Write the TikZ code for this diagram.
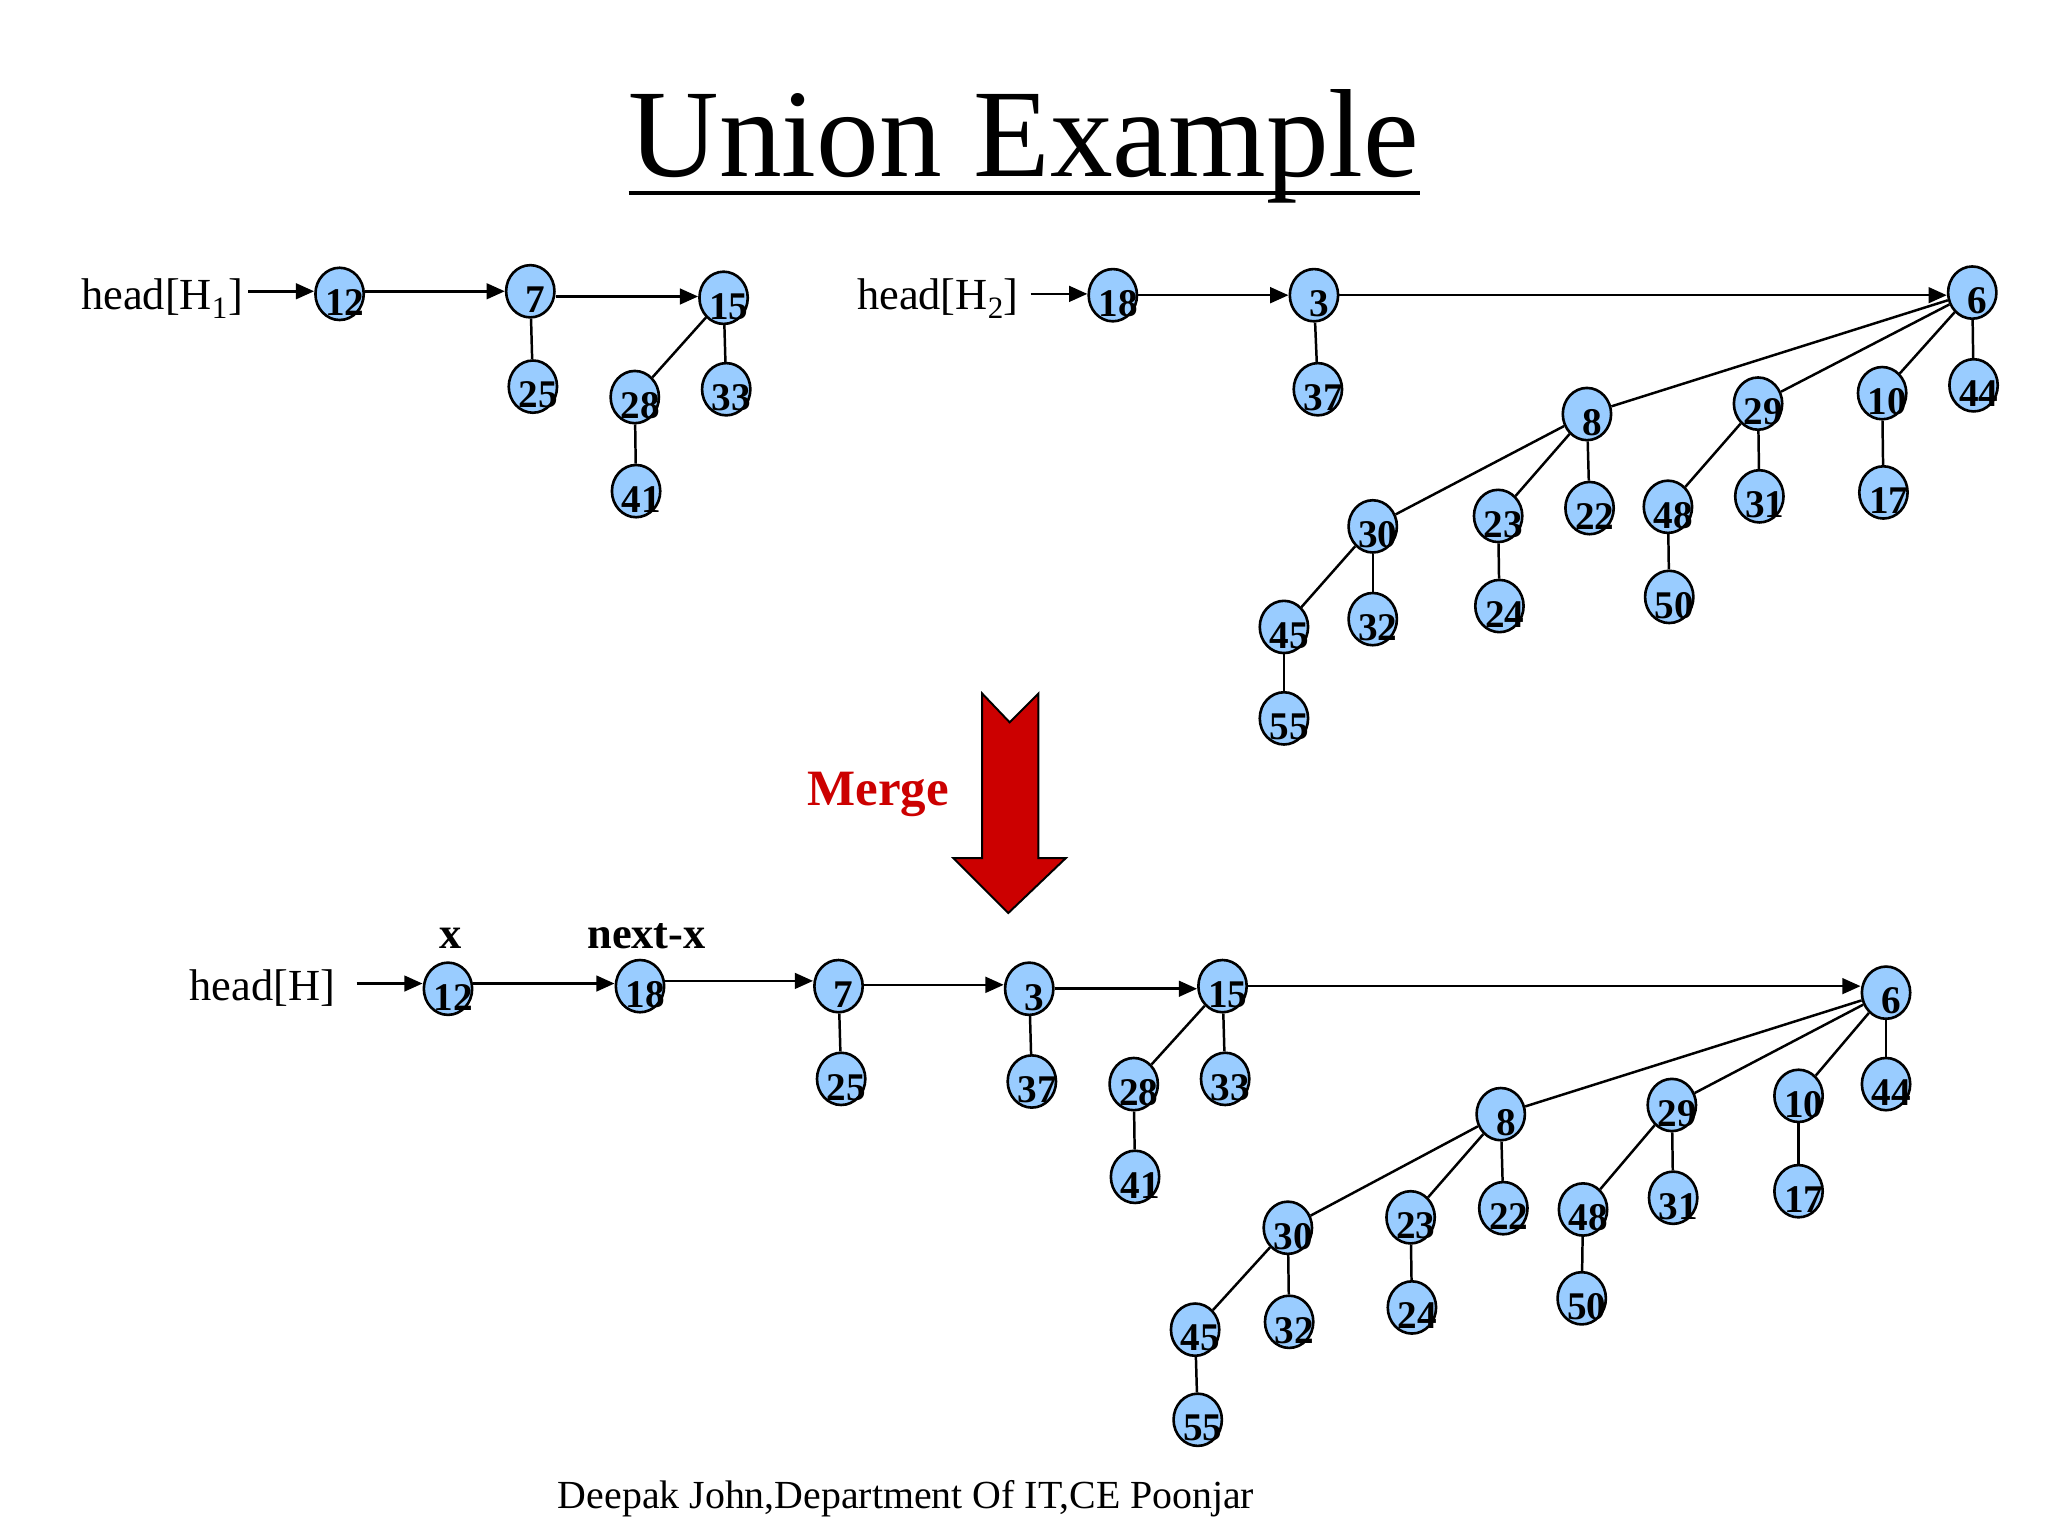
\documentclass[tikz,border=0pt]{standalone}
\usepackage{fontspec}
\setmainfont{Liberation Serif}
\usetikzlibrary{shapes.geometric,arrows.meta}
\definecolor{nodeblue}{HTML}{99CCFF}
\definecolor{mergered}{HTML}{CC0000}
\tikzset{
 nd/.style={ellipse, draw=black, line width=2pt, fill=nodeblue, minimum width=37pt, minimum height=40pt, inner sep=0pt},
 num/.style={font=\fontsize{30}{30}\selectfont\bfseries, inner sep=0pt},
 edge/.style={line width=1.9pt},
 arr/.style={line width=2pt, -{Triangle[length=14pt,width=12pt]}},
 txt/.style={inner sep=0pt},
 headtxt/.style={txt, font=\fontsize{34}{34}\selectfont, anchor=base west},
}
\newcommand{\hn}[4]{\node[nd] (#1) at (#2,#3) {}; \node[num] (#1t) at ([xshift=4pt,yshift=-6.5pt]#1.center) {#4};}
\newcommand{\harr}[2]{\draw[arr] (#1) -- (#1 -| #2.west);}
\begin{document}
\begin{tikzpicture}[x=1pt,y=-1pt]
\useasboundingbox[fill=white] (0,0) rectangle (1568,1176);
% title
\node[txt, font=\fontsize{96}{96}\selectfont, anchor=base] (title) at (784,135) {Union Example};
\draw[line width=3pt] (title.base west |- 0,148) -- (title.base east |- 0,148);

% ---------- H1 ----------
\node[headtxt] (h1) at (62,237) {head[H\textsubscript{1}]};
\coordinate (h1a) at (190,223);
\hn{p12}{260}{225}{12}
\hn{p7}{406}{223}{7}
\hn{p15}{554}{228}{15}
\hn{p25}{408}{296}{25}
\hn{p28}{486}{304}{28}
\hn{p33}{556}{298}{33}
\hn{p41}{487}{376}{41}
\harr{h1a}{p12}
\draw[arr] (p12.east |- p7) -- (p7.west);
\draw[arr] (p7.east |- 0,227) -- (p15.west |- 0,227);
\draw[edge] (p7) -- (p25);
\draw[edge] (p15) -- (p28);
\draw[edge] (p15) -- (p33);
\draw[edge] (p28) -- (p41);

% ---------- H2 ----------
\node[headtxt] (h2) at (656,237) {head[H\textsubscript{2}]};
\coordinate (h2a) at (789,225);
\hn{q18}{852}{226}{18}
\hn{q3}{1006}{226}{3}
\hn{q6}{1510}{224}{6}
\hn{q37}{1009}{298}{37}
\hn{q8}{1215}{317}{8}
\hn{q29}{1346}{309}{29}
\hn{q10}{1441}{301}{10}
\hn{q44}{1511}{295}{44}
\hn{q30}{1051}{403}{30}
\hn{q23}{1147}{395}{23}
\hn{q22}{1217}{389}{22}
\hn{q48}{1277}{388}{48}
\hn{q31}{1347}{380}{31}
\hn{q17}{1442}{377}{17}
\hn{q45}{983}{480}{45}
\hn{q32}{1051}{474}{32}
\hn{q24}{1148}{464}{24}
\hn{q50}{1278}{457}{50}
\hn{q55}{983}{550}{55}
\harr{h2a}{q18}
\harr{q18}{q3}
\harr{q3}{q6}
\draw[edge] (q3) -- (q37);
\draw[edge] (q6) -- (q8);
\draw[edge] (q6) -- (q29);
\draw[edge] (q6) -- (q10);
\draw[edge] (q6) -- (q44);
\draw[edge] (q8) -- (q30);
\draw[edge] (q8) -- (q23);
\draw[edge] (q8) -- (q22);
\draw[edge] (q29) -- (q48);
\draw[edge] (q29) -- (q31);
\draw[edge] (q10) -- (q17);
\draw[edge] (q30) -- (q45);
\draw[edge] (q30) -- (q32);
\draw[edge] (q23) -- (q24);
\draw[edge] (q48) -- (q50);
\draw[edge] (q45) -- (q55);

% ---------- Merge arrow ----------
\draw[fill=mergered, draw=black, line width=1.5pt, line join=miter]
  (752,531) -- (773,553) -- (795,531) -- (795,657) -- (816,657) -- (772,699)
  -- (730,657) -- (752,657) -- cycle;
\node[txt, font=\fontsize{39}{39}\selectfont\bfseries, text=mergered, anchor=base west] (merge) at (618,617) {Merge};

% ---------- H ----------
\node[headtxt] (hh) at (145,766) {head[H]};
\coordinate (hha) at (273,753);
\node[txt, font=\fontsize{34}{34}\selectfont\bfseries, anchor=base] (lx) at (345,726) {x};
\node[txt, font=\fontsize{34}{34}\selectfont\bfseries, anchor=base] (lnx) at (495,726) {next-x};
\hn{r12}{343}{757}{12}
\hn{r18}{490}{755}{18}
\hn{r7}{642}{755}{7}
\hn{r3}{788}{757}{3}
\hn{r15}{936}{755}{15}
\hn{r6}{1444}{760}{6}
\hn{r25}{644}{826}{25}
\hn{r37}{790}{828}{37}
\hn{r28}{868}{830}{28}
\hn{r33}{938}{826}{33}
\hn{r41}{869}{901}{41}
\hn{r8}{1149}{853}{8}
\hn{r29}{1280}{846}{29}
\hn{r10}{1377}{839}{10}
\hn{r44}{1444}{830}{44}
\hn{r30}{986}{940}{30}
\hn{r23}{1080}{932}{23}
\hn{r22}{1151}{925}{22}
\hn{r48}{1212}{926}{48}
\hn{r31}{1281}{917}{31}
\hn{r17}{1377}{912}{17}
\hn{r45}{915}{1018}{45}
\hn{r32}{987}{1012}{32}
\hn{r24}{1081}{1001}{24}
\hn{r50}{1211}{994}{50}
\hn{r55}{917}{1087}{55}
\harr{hha}{r12}
\draw[arr] (r12.east |- 0,753) -- (r18.west |- 0,753);
\draw[arr] (r18.east |- 0,751) -- (r7.west |- 0,751);
\draw[arr] (r7.east |- 0,754) -- (r3.west |- 0,754);
\harr{r3}{r15}
\draw[arr] (r15.east |- 0,755) -- (r6.west |- 0,755);
\draw[edge] (r7) -- (r25);
\draw[edge] (r3) -- (r37);
\draw[edge] (r15) -- (r28);
\draw[edge] (r15) -- (r33);
\draw[edge] (r28) -- (r41);
\draw[edge] (r6) -- (r8);
\draw[edge] (r6) -- (r29);
\draw[edge] (r6) -- (r10);
\draw[edge] (r6) -- (r44);
\draw[edge] (r8) -- (r30);
\draw[edge] (r8) -- (r23);
\draw[edge] (r8) -- (r22);
\draw[edge] (r29) -- (r48);
\draw[edge] (r29) -- (r31);
\draw[edge] (r10) -- (r17);
\draw[edge] (r30) -- (r45);
\draw[edge] (r30) -- (r32);
\draw[edge] (r23) -- (r24);
\draw[edge] (r48) -- (r50);
\draw[edge] (r45) -- (r55);

% footer
\node[txt, font=\fontsize{30.5}{30.5}\selectfont, anchor=base west] (foot) at (427,1155) {Deepak John,Department Of IT,CE Poonjar};
\end{tikzpicture}
\end{document}
